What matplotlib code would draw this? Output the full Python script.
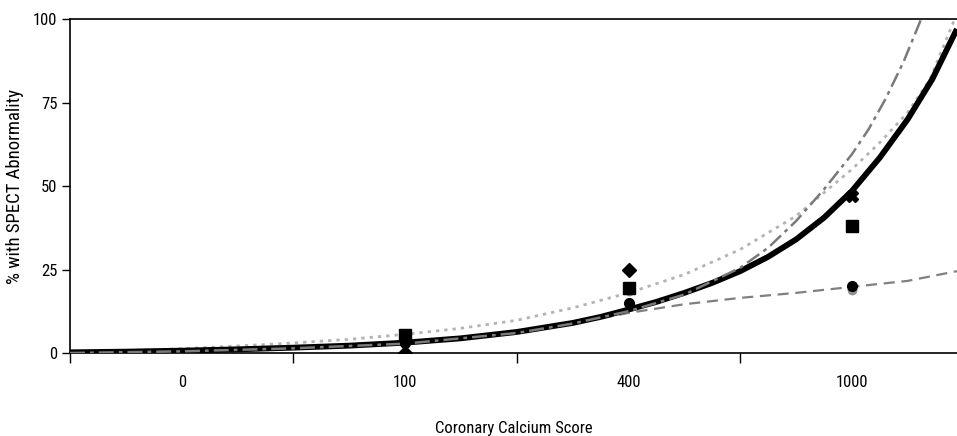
import matplotlib
matplotlib.use("Agg")
import matplotlib.pyplot as plt
from matplotlib import font_manager

_names = {f.name for f in font_manager.fontManager.ttflist}
_cands = ['Liberation Sans Narrow', 'Arial Narrow', 'Roboto Condensed', 'Open Sans Condensed',
          'DejaVu Sans Condensed', 'Roboto', 'Liberation Sans']
_fam = [c for c in _cands if c in _names][:1] + ['DejaVu Sans']
plt.rcParams['font.family'] = _fam
_narrow = _fam[0] in ('Liberation Sans Narrow', 'Arial Narrow', 'Roboto Condensed',
                      'Open Sans Condensed', 'DejaVu Sans Condensed')
FS = 12 if _narrow else 10.5

# Category axis
categories = ["0", "100", "400", "1000"]
cat_pos = [0.5, 1.5, 2.5, 3.5]

# Trend curves (x in category units, y in %)
black_x = [0.0, 0.25, 0.5, 0.75, 1.0, 1.25, 1.5, 1.75, 2.0, 2.25, 2.375, 2.5, 2.625, 2.75,
           2.875, 3.0, 3.125, 3.25, 3.375, 3.5, 3.625, 3.75, 3.86, 3.97]
black_y = [0.2, 0.4, 0.7, 1.1, 1.6, 2.2, 3.1, 4.4, 6.3, 9.0, 10.8, 13.0, 15.3, 18.0,
           21.0, 24.5, 28.8, 34.0, 40.5, 48.5, 58.5, 70.0, 82.0, 97.0]

dash_x = [0.0, 0.5, 1.0, 1.5, 2.0, 2.25, 2.5, 2.75, 3.0, 3.125, 3.25, 3.375, 3.5, 3.575,
          3.65, 3.73, 3.81, 3.9]
dash_y = [0.0, 0.5, 1.4, 2.8, 6.0, 8.8, 12.5, 17.5, 25.5, 31.5, 39.5, 49.0, 59.5, 67.0,
          76.0, 87.0, 100.0, 116.0]

dot_x = [0.0, 0.25, 0.5, 0.75, 1.0, 1.25, 1.5, 1.75, 2.0, 2.25, 2.5, 2.75, 3.0, 3.25,
         3.5, 3.625, 3.75, 3.85, 3.96]
dot_y = [0.3, 0.7, 1.3, 2.1, 3.0, 4.1, 5.6, 7.4, 9.8, 13.5, 18.0, 23.5, 31.0, 41.0,
         55.0, 63.0, 72.0, 82.0, 100.0]

log_x = [0.0, 0.25, 0.5, 0.75, 1.0, 1.25, 1.5, 1.75, 2.0, 2.25, 2.5, 2.75, 3.0, 3.25,
         3.5, 3.75, 3.97]
log_y = [0.0, 0.4, 0.8, 1.3, 1.9, 2.5, 3.2, 4.4, 6.2, 8.8, 12.0, 14.6, 16.5, 18.0,
         19.8, 21.6, 24.5]

# Observed points
diamond_vals = [0.0, 25.0]
diamond_pos = [1.5, 2.5]
square_vals = [5.5, 19.5, 38.0]
square_pos = [1.5, 2.5, 3.5]
circle_vals = [3.0, 15.0, 20.0]
circle_pos = [1.5, 2.5, 3.5]
x_vals = [47.0]
x_pos = [3.5]
gray_vals = [18.5, 19.0]
gray_pos = [2.5, 3.5]

fig = plt.figure(figsize=(9.57, 4.36), dpi=100)
ax = fig.add_axes([70/957, 1-353/436, 887/957, 334/436])

ax.plot(log_x, log_y, color='#808080', lw=1.6, ls=(0, (5, 3)), zorder=3)
ax.plot(dot_x, dot_y, color='#b4b4b4', lw=2.0, ls=(0, (1.2, 1.8)), zorder=3)
ax.plot(black_x, black_y, color='black', lw=4.2, solid_capstyle='butt',
        solid_joinstyle='round', zorder=4)
ax.plot(dash_x, dash_y, color='#7a7a7a', lw=1.8, ls=(0, (6, 2, 1.5, 2)), zorder=5)

ax.plot(gray_pos, gray_vals, ls='none', marker='o', ms=6, color='#909090', zorder=5)
ax.plot(circle_pos, circle_vals, ls='none', marker='o', ms=7, color='black', zorder=6)
ax.plot(square_pos, square_vals, ls='none', marker='s', ms=8.5, color='black', zorder=6)
ax.plot(diamond_pos, diamond_vals, ls='none', marker='D', ms=7, color='black', zorder=6)
ax.plot(x_pos, x_vals, ls='none', marker='X', ms=9, color='black', zorder=6)

ax.set_xlim(0, 887/223.4)
ax.set_ylim(0, 100)
ax.set_yticks([0, 25, 50, 75, 100])
ax.set_xticks([0, 1, 2, 3])
ax.set_xticklabels([])
ax.set_xticks(cat_pos, minor=True)
ax.set_xticklabels(categories, minor=True)
ax.tick_params(axis='x', which='major', direction='out', length=7, width=1, color='black')
ax.tick_params(axis='x', which='minor', length=0, pad=16, labelsize=FS)
ax.tick_params(axis='y', direction='out', length=6, width=1, labelsize=FS, pad=3)

for s in ['left', 'bottom', 'top']:
    ax.spines[s].set_linewidth(1.2)
    ax.spines[s].set_color('black')
ax.spines['right'].set_visible(False)

ax.set_xlabel("Coronary Calcium Score", fontsize=FS, labelpad=22)
ax.set_ylabel("% with SPECT Abnormality", fontsize=FS + 1.5)
ax.yaxis.set_label_coords(-46/887, 0.5)

fig.savefig("out.png", dpi=100)
